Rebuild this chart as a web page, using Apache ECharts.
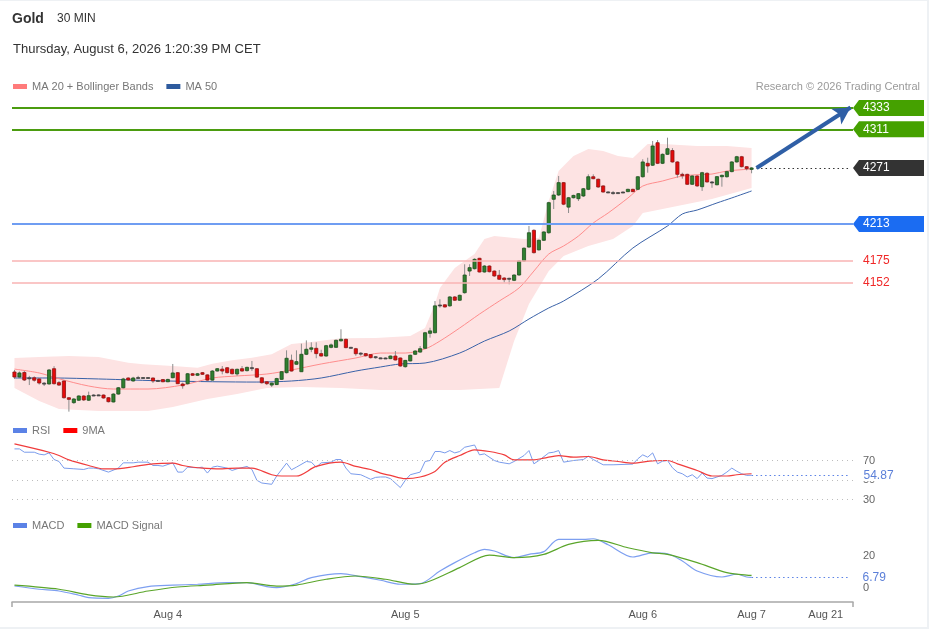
<!DOCTYPE html>
<html><head><meta charset="utf-8">
<script src="https://cdn.jsdelivr.net/npm/echarts@6/dist/echarts.min.js"></script>
<style>
html,body{margin:0;padding:0;background:#fff;}
#c{width:929px;height:629px;box-sizing:border-box;border-right:2px solid #eef1f4;border-bottom:2px solid #eef1f4;border-top:1px solid #eef1f4;}
</style></head><body><div id="c"></div>
<script>
// ---------- DATA ----------
const totalSlots = 170;
const dayLabelSlots = [31, 79, 127, 149, 164];
const dayLabels = ['Aug 4', 'Aug 5', 'Aug 6', 'Aug 7', 'Aug 21'];

// candles: [open, high, low, close]
const ohlc = [
[4060.0,4062.1,4052.8,4054.8],[4054.8,4060.5,4053.8,4059.0],[4059.5,4061.0,4050.7,4051.7],[4053.0,4056.0,4046.5,4054.0],
[4054.0,4055.5,4050.0,4051.5],[4052.8,4053.5,4047.0,4048.6],[4048.5,4049.5,4045.5,4047.6],[4047.6,4063.0,4047.0,4062.1],
[4063.4,4066.0,4047.0,4047.9],[4049.0,4050.7,4045.5,4046.5],[4050.7,4051.2,4032.5,4033.4],[4033.4,4034.0,4019.0,4031.7],
[4028.3,4033.0,4027.0,4032.1],[4030.8,4036.0,4030.0,4035.2],[4035.2,4036.0,4030.0,4031.1],[4030.8,4039.7,4030.0,4035.5],
[4035.5,4037.0,4035.0,4036.2],[4036.2,4036.8,4035.5,4036.3],[4036.2,4036.8,4032.5,4033.1],[4033.4,4034.0,4028.5,4029.3],
[4029.0,4038.0,4028.5,4037.2],[4037.2,4044.5,4036.5,4043.7],[4043.7,4054.0,4043.0,4052.8],[4053.8,4054.5,4051.0,4051.7],
[4050.7,4055.0,4050.0,4053.8],[4054.0,4056.0,4053.5,4054.3],[4054.3,4054.6,4054.0,4054.3],[4054.3,4054.6,4054.0,4054.2],
[4053.8,4054.3,4048.6,4050.7],[4051.2,4052.0,4050.0,4050.7],[4052.2,4052.8,4049.5,4049.9],[4049.9,4053.0,4049.5,4052.3],
[4054.1,4068.3,4053.5,4059.0],[4059.3,4060.0,4047.5,4047.9],[4047.6,4049.0,4042.7,4045.8],[4047.9,4059.0,4047.0,4058.2],
[4058.2,4059.0,4056.0,4056.6],[4056.6,4059.0,4056.0,4058.2],[4059.3,4060.0,4057.0,4057.6],[4057.0,4057.6,4051.0,4051.6],
[4051.6,4062.0,4051.0,4061.0],[4061.0,4064.0,4060.5,4063.4],[4063.0,4066.2,4057.6,4061.0],[4064.4,4065.0,4058.5,4059.3],
[4062.8,4063.5,4057.5,4058.2],[4058.0,4063.5,4056.0,4062.8],[4063.4,4066.2,4060.5,4061.0],[4061.4,4065.5,4060.5,4064.8],
[4064.5,4071.4,4061.0,4063.5],[4063.4,4064.0,4054.0,4054.7],[4054.0,4054.7,4048.0,4048.9],[4049.9,4050.5,4046.5,4047.9],
[4046.5,4049.0,4044.5,4048.5],[4047.0,4054.0,4046.5,4053.2],[4052.4,4061.0,4052.0,4060.3],[4059.3,4082.4,4058.5,4074.2],
[4072.1,4078.0,4060.5,4061.0],[4068.0,4082.4,4067.5,4070.7],[4060.3,4089.3,4060.0,4078.3],[4078.3,4092.7,4077.5,4083.5],
[4083.5,4090.7,4080.5,4085.0],[4084.5,4090.7,4074.2,4079.0],[4079.0,4083.0,4076.0,4076.5],[4076.5,4088.0,4076.0,4087.2],
[4085.5,4089.5,4084.5,4088.0],[4085.5,4093.5,4085.0,4092.8],[4092.2,4104.2,4091.5,4093.8],[4093.8,4094.5,4084.5,4085.2],
[4085.5,4086.0,4084.5,4085.0],[4084.1,4085.0,4076.8,4078.9],[4079.5,4080.5,4076.8,4078.5],[4079.0,4079.5,4076.0,4076.8],
[4078.0,4078.5,4074.0,4074.8],[4075.8,4076.5,4073.8,4074.5],[4074.5,4075.0,4074.0,4074.6],[4074.5,4075.0,4074.0,4074.4],
[4073.8,4077.0,4073.3,4076.5],[4076.5,4081.7,4072.0,4072.4],[4074.5,4075.0,4065.5,4066.2],[4065.5,4072.5,4064.5,4072.0],
[4071.4,4078.0,4071.0,4077.3],[4078.3,4082.5,4077.5,4081.7],[4080.6,4086.9,4080.0,4084.1],[4084.5,4101.5,4084.0,4100.6],
[4100.0,4105.8,4095.5,4102.5],[4100.6,4133.4,4100.0,4128.4],[4128.4,4135.2,4126.5,4129.3],[4129.5,4130.0,4126.8,4127.2],
[4128.4,4138.5,4127.5,4137.6],[4137.6,4138.5,4133.5,4134.2],[4134.2,4140.0,4133.5,4139.3],[4142.0,4171.4,4141.0,4160.3],
[4164.4,4171.4,4159.3,4167.9],[4166.8,4177.5,4166.0,4176.5],[4177.6,4178.0,4163.0,4163.4],[4163.4,4170.5,4162.8,4169.6],
[4169.6,4170.3,4163.0,4163.7],[4164.4,4165.0,4158.5,4159.3],[4160.0,4165.5,4155.3,4155.9],[4157.2,4158.0,4152.5,4155.5],
[4156.0,4157.5,4150.7,4156.9],[4154.8,4161.0,4154.0,4160.3],[4160.3,4175.5,4159.5,4174.8],[4174.8,4188.8,4174.0,4188.0],
[4189.2,4211.0,4188.5,4204.0],[4206.5,4207.5,4182.5,4183.4],[4186.3,4197.0,4185.5,4196.2],[4196.2,4205.5,4195.5,4204.8],
[4204.0,4236.0,4203.0,4235.1],[4238.6,4247.2,4228.5,4243.0],[4243.0,4262.7,4242.0,4255.8],[4255.8,4256.5,4232.5,4233.5],
[4230.5,4241.0,4224.4,4240.2],[4240.2,4243.3,4239.5,4242.6],[4239.2,4245.0,4236.8,4244.4],[4242.0,4250.3,4241.0,4249.5],
[4248.9,4264.4,4248.0,4261.9],[4261.9,4264.4,4259.3,4259.9],[4259.3,4260.0,4250.5,4251.3],[4252.4,4253.0,4245.5,4246.1],
[4246.1,4246.8,4245.5,4246.2],[4245.4,4247.2,4243.4,4245.5],[4245.4,4245.9,4245.0,4245.5],[4246.1,4246.6,4245.6,4246.0],
[4246.5,4249.5,4246.0,4248.9],[4248.9,4249.5,4246.0,4246.5],[4248.9,4262.5,4248.0,4261.9],[4261.9,4280.0,4261.0,4277.2],
[4275.8,4281.6,4266.1,4273.0],[4273.8,4298.9,4273.0,4293.7],[4297.1,4299.9,4275.0,4275.8],[4275.8,4286.0,4275.0,4285.1],
[4285.1,4302.3,4284.5,4290.9],[4289.0,4291.5,4276.5,4277.2],[4277.2,4278.0,4260.9,4264.4],[4264.4,4266.1,4259.9,4263.0],
[4264.4,4265.0,4253.5,4254.1],[4254.1,4263.5,4253.5,4262.7],[4262.7,4263.5,4251.5,4252.4],[4251.6,4267.0,4247.2,4266.1],
[4265.5,4266.5,4256.0,4256.5],[4256.5,4257.5,4250.5,4255.2],[4253.6,4262.5,4253.0,4262.0],[4261.9,4264.0,4251.6,4263.4],
[4261.9,4268.0,4261.0,4267.2],[4267.2,4278.0,4266.5,4277.2],[4277.2,4283.5,4276.5,4282.6],[4282.6,4283.5,4271.5,4272.3],
[4272.3,4273.0,4268.5,4270.2],[4269.5,4271.8,4265.5,4271.0]
];

// [slot, value] readings
const ma20 = [[0,4063],[5,4059],[9,4053],[15,4045.5],[20,4042.4],[27,4042.4],[34,4046.5],[40,4053.8],[45,4055.9],[51,4057.9],
[56,4062.1],[62,4068.3],[69,4074.5],[74,4079.6],[79,4079.6],[83,4083.8],[86,4092],[90,4105.5],[94,4119.9],[98,4133.4],
[102,4146.9],[105,4164.4],[108,4182],[111,4190.3],[114,4200.6],[117,4214.1],[120,4224.4],[124,4239.9],[127,4252.3],
[131,4257.5],[134,4261.6],[137,4263.7],[141,4264.7],[144,4267.8],[149,4269.9]];
const ma50 = [[0,4053.8],[8,4053.8],[17,4052.8],[31,4050.7],[49,4049.6],[56,4050.7],[62,4053.8],[69,4061],[74,4065.2],
[78,4068.3],[83,4069.3],[90,4079.6],[95,4092],[100,4102.4],[104,4114.8],[108,4126.2],[111,4133.4],[118,4156.2],
[125,4188.2],[132,4211],[135,4223.4],[138,4227.5],[142,4234.8],[145,4240],[149,4247.2]];
const bbUpper = [[0,4074.5],[5,4075.5],[11,4076.5],[17,4075.5],[23,4069.6],[26,4068],[32,4066.2],[37,4064.4],[40,4068.6],
[44,4072.1],[48,4074.8],[52,4078.3],[56,4088.9],[60,4091],[66,4095],[73,4095.1],[80,4097.2],[83,4105.5],[85,4130.3],
[86,4146.9],[89,4167.5],[93,4182],[95,4197.5],[97,4200.6],[103,4197.5],[106,4198.6],[108,4236.8],[110,4267.8],
[113,4283.4],[116,4290.6],[119,4288.5],[122,4283.4],[125,4281.3],[128,4295.8],[131,4295.8],[138,4293.7],[144,4293.7],[149,4291.6]];
const bbLower = [[0,4043.4],[5,4030],[9,4021.7],[17,4019.7],[27,4019.7],[32,4023.8],[39,4032.1],[45,4037.2],[51,4043.4],
[58,4044.5],[66,4043.4],[74,4041.4],[82,4041.4],[90,4041.4],[98,4043.4],[101,4092],[104,4130.3],[108,4164.4],
[111,4180],[116,4190.3],[121,4197.5],[125,4211],[127,4224.4],[134,4231.6],[141,4238.9],[149,4250.3]];

const rsi = [[0,81.9],[1,81.9],[2,78.5],[4,78.5],[5,76.5],[6,75.8],[7,77.8],[8,71],[9,69],[10,62.2],[12,61.5],[14,60.8],
[15,62.2],[16,62.2],[17,61.5],[19,58.1],[21,62.2],[22,67.6],[24,67.6],[25,68.3],[27,68.3],[28,64.9],[29,64.9],[30,64.2],
[32,67.6],[33,58.1],[34,58.1],[35,63.2],[37,62.5],[38,63.2],[39,57.1],[40,63.2],[41,64.2],[43,62.2],[44,59.8],[45,61.5],
[47,63.9],[48,60.8],[49,49.7],[50,46.9],[52,45.6],[53,54.1],[55,67.3],[56,60.5],[57,63.2],[59,69],[60,68.3],[61,63.2],
[62,67.6],[64,68.3],[65,71],[66,71],[67,62.2],[68,56.4],[70,55.4],[71,53.1],[72,50.7],[73,52.7],[74,53.1],[75,53.1],
[76,51.4],[78,42.2],[79,49.7],[80,55.4],[82,58.1],[83,69],[84,70],[85,79.2],[86,79.2],[87,77.8],[88,80.2],[89,77.8],
[90,79.2],[91,83.6],[93,85.9],[94,75.8],[95,76.8],[97,70],[98,68.3],[100,66.6],[101,69],[103,75.1],[104,80.2],[105,66.6],
[106,70],[108,77.8],[109,78.5],[110,80.2],[111,68.3],[113,70],[115,71],[116,74.4],[117,71],[119,65.6],[121,65.6],
[125,66.3],[126,71.7],[127,75.8],[128,73.4],[129,77.8],[130,66.6],[131,69.3],[132,70],[133,62.5],[134,58.1],[135,56.4],
[136,53.1],[137,55.4],[138,51.4],[139,57.1],[140,52],[141,51.4],[142,53.1],[143,54.7],[144,58.1],[145,62.2],[146,59],
[147,56.4],[148,54.7],[149,54.87]];
const rsiMa = [[0,87],[7,78.5],[9,75.1],[11,70.7],[15,64.9],[18,61.5],[20,61.5],[24,63.6],[28,66.6],[32,67.3],[34,64.9],
[38,62.2],[42,61.5],[45,62.2],[48,62.2],[52,55.4],[54,54.1],[57,54.1],[61,63.9],[66,68.3],[69,63.9],[72,60.8],[74,57],
[76,54.7],[79,51.4],[82,53.1],[85,58.8],[87,68.3],[90,75.1],[93,80.9],[96,79.2],[99,75.8],[101,70.7],[105,70.7],
[107,72.4],[110,75.1],[113,73.4],[116,74.1],[119,70.7],[122,69],[125,67.3],[129,69.7],[132,70],[134,66.6],[138,59.8],
[141,54.1],[144,54.1],[146,55.4],[149,56.4]];

const macd = [[0,1.4],[5,-0.6],[9,-1.7],[13,-4.3],[15,-5.8],[19,-6.2],[21,-4.8],[23,-1.7],[27,1.0],[32,1.9],[37,2.5],
[43,3.5],[47,3.5],[51,1.0],[53,0.4],[57,2.9],[60,6.6],[66,9.1],[70,7.2],[74,5.0],[78,2.5],[82,2.9],[86,10.7],[89,15.9],
[93,22],[95,24.1],[97,23.1],[101,19],[104,21],[107,22.7],[110,30.3],[115,30.3],[117,30.7],[120,27],[125,19.4],[129,22],
[132,21.4],[135,16.9],[138,10.7],[143,7],[146,8.7],[148,7],[149,6.79]];
const macdSignal = [[0,1.9],[9,-0.6],[15,-4.1],[20,-5.4],[27,-1.7],[33,0.8],[39,1.9],[47,3.5],[53,1.4],[57,2.0],[63,5.6],
[69,7.6],[75,5.6],[81,2.5],[84,4.5],[90,12.8],[96,20.6],[101,19],[107,21],[112,27.2],[118,29.7],[124,25.1],[129,22],
[132,21],[138,15.9],[144,9.7],[148,8.2],[149,8.0]];

const levels = [4333, 4311, 4271, 4213, 4175, 4152];
const lastPrice = 4271;
const target = 4333.5;
const lastRsi = 54.87;
const lastMacd = 6.79;
const rsiGuides = [30, 50, 70];
const macdTicks = [0, 20];

// ---------- STYLE ----------
const FONT = '"Liberation Sans", Arial, sans-serif';
const levelStyle = {
  4333: {line: '#4b9c0f', width: 2, tag: '#45a100'},
  4311: {line: '#4b9c0f', width: 2, tag: '#45a100'},
  4271: {line: null, tag: '#333333'},
  4213: {line: '#6f9df2', width: 2, tag: '#1b6cf2'},
  4175: {line: '#f9b3b3', width: 1.5, text: '#f02828'},
  4152: {line: '#f9b3b3', width: 1.5, text: '#f02828'}
};

const chart = echarts.init(document.getElementById('c'), null, {renderer: 'canvas'});
const cats = Array.from({length: totalSlots}, (_, i) => 's' + i);
const GL = 12, GR = 74;

function renderCandle(params, api) {
  const i = api.value(0), o = api.value(1), h = api.value(2), l = api.value(3), c = api.value(4);
  const pO = api.coord([i, o]), pC = api.coord([i, c]), pH = api.coord([i, h]), pL = api.coord([i, l]);
  const w = api.size([1, 0])[0] * 0.64;
  const top = Math.min(pO[1], pC[1]);
  let hgt = Math.abs(pO[1] - pC[1]);
  const doji = hgt < 1.3;
  if (doji) hgt = 1;
  const up = c >= o;
  return {type: 'group', children: [
    {type: 'line', shape: {x1: pH[0], y1: pH[1], x2: pL[0], y2: pL[1]}, style: {stroke: '#8d8d8d', lineWidth: 1}},
    {type: 'rect', shape: {x: pO[0] - w / 2, y: top, width: w, height: hgt},
      style: {fill: doji ? '#444' : (up ? '#2f7f2f' : '#e60a0a'), stroke: doji ? '#444' : (up ? '#1d4f1d' : '#8c1515'), lineWidth: 0.8}}
  ]};
}
function renderBand(params, api) {
  if (params.dataIndex !== 0) return;
  const pts = bbUpper.map(p => api.coord(p)).concat(bbLower.slice().reverse().map(p => api.coord(p)));
  return {type: 'polygon', shape: {points: pts}, style: {fill: '#fde3e3'}};
}

const xBase = {type: 'category', data: cats, boundaryGap: true, axisLine: {show: false}, axisTick: {show: false}, axisLabel: {show: false}, splitLine: {show: false}};

const option = {
  animation: false,
  backgroundColor: '#fff',
  textStyle: {fontFamily: FONT},
  title: [
    {text: 'Gold', left: 12, top: 11, padding: 0, textStyle: {fontSize: 14, fontWeight: 'bold', color: '#333', fontFamily: FONT}},
    {text: '30 MIN', left: 57, top: 12, padding: 0, textStyle: {fontSize: 12, fontWeight: 'normal', color: '#333', fontFamily: FONT}},
    {text: 'Thursday, August 6, 2026 1:20:39 PM CET', left: 13, top: 42, padding: 0, textStyle: {fontSize: 13, fontWeight: 'normal', color: '#333', fontFamily: FONT}},
    {text: 'Research © 2026 Trading Central', right: 7, top: 80, padding: 0, textStyle: {fontSize: 11, fontWeight: 'normal', color: '#9a9a9a', fontFamily: FONT}}
  ],
  legend: [
    {data: ['MA 20 + Bollinger Bands', 'MA 50'], left: 13, top: 80, padding: 0, icon: 'rect', itemWidth: 14, itemHeight: 5, itemGap: 13,
      textStyle: {fontSize: 11, color: '#777', fontFamily: FONT}, selectedMode: false},
    {data: ['RSI', '9MA'], left: 13, top: 424, padding: 0, icon: 'rect', itemWidth: 14, itemHeight: 5, itemGap: 13,
      textStyle: {fontSize: 11, color: '#777', fontFamily: FONT}, selectedMode: false},
    {data: ['MACD', 'MACD Signal'], left: 13, top: 519, padding: 0, icon: 'rect', itemWidth: 14, itemHeight: 5, itemGap: 13,
      textStyle: {fontSize: 11, color: '#777', fontFamily: FONT}, selectedMode: false}
  ],
  grid: [
    {left: GL, right: GR, top: 95, height: 320},
    {left: GL, right: GR, top: 440, height: 68.25},
    {left: GL, right: GR, top: 530, height: 71}
  ],
  xAxis: [
    Object.assign({}, xBase, {gridIndex: 0}),
    Object.assign({}, xBase, {gridIndex: 1}),
    Object.assign({}, xBase, {gridIndex: 2, position: 'bottom',
      axisLine: {show: true, onZero: false, lineStyle: {color: '#a8a8a8', width: 1.5}},
      axisTick: {show: true, interval: (idx) => idx === 0, length: 5, lineStyle: {color: '#a8a8a8', width: 1.5}},
      axisLabel: {show: true, interval: (idx) => dayLabelSlots.indexOf(idx) >= 0,
        formatter: (v, idx) => { const k = dayLabelSlots.indexOf(idx); return k >= 0 ? dayLabels[k] : ''; },
        color: '#555', fontSize: 11, margin: 7, fontFamily: FONT}})
  ],
  yAxis: [
    {gridIndex: 0, type: 'value', min: 4014.5, max: 4345.4, show: false, splitLine: {show: false}},
    {gridIndex: 1, type: 'value', position: 'right', min: 20, max: 90, interval: 10,
      axisLine: {show: false}, axisTick: {show: false}, splitLine: {show: false},
      axisLabel: {color: '#666', fontSize: 11, margin: 10, fontFamily: FONT,
        formatter: (v) => rsiGuides.indexOf(v) >= 0 ? String(v) : ''}},
    {gridIndex: 2, type: 'value', position: 'right', min: -8.5, max: 35.5,
      axisLine: {show: false}, axisTick: {show: false}, splitLine: {show: false},
      axisLabel: {color: '#666', fontSize: 11, margin: 10, fontFamily: FONT, customValues: macdTicks}}
  ],
  series: [
    {name: 'band', type: 'custom', xAxisIndex: 0, yAxisIndex: 0, renderItem: renderBand, data: [[0, bbUpper[0][1]]], z: 1, silent: true},
    {name: 'MA 50', type: 'line', xAxisIndex: 0, yAxisIndex: 0, data: ma50, showSymbol: false, smooth: 0.3,
      lineStyle: {color: '#3a62a8', width: 1}, itemStyle: {color: '#2e5b9e'}, z: 2,
      markLine: {silent: true, symbol: ['none', 'none'], label: {show: false},
        data: levels.filter(v => levelStyle[v].line).map(v => ({yAxis: v, lineStyle: {color: levelStyle[v].line, width: levelStyle[v].width, type: 'solid'}}))}},
    {name: 'MA 20 + Bollinger Bands', type: 'line', xAxisIndex: 0, yAxisIndex: 0, data: ma20, showSymbol: false, smooth: 0.3,
      lineStyle: {color: '#ff8d8d', width: 1}, itemStyle: {color: '#ff7b7b'}, z: 3,
      markLine: {silent: true, symbol: ['none', 'none'], label: {show: false},
        data: [
          [{coord: [150, lastPrice], symbol: 'none'}, {coord: [totalSlots - 1, lastPrice], symbol: 'none', lineStyle: {color: '#333', type: [1.5, 3], width: 1.2}}],
          [{coord: [150, lastPrice], symbol: 'none'}, {coord: [totalSlots - 1, target], symbol: 'arrow', symbolSize: [14, 17], lineStyle: {color: '#2f5fa6', width: 4, type: 'solid'}}]
        ]}},
    {name: 'Gold', type: 'custom', xAxisIndex: 0, yAxisIndex: 0, renderItem: renderCandle,
      encode: {x: 0, y: [1, 2, 3, 4]}, data: ohlc.map((r, i) => [i, r[0], r[1], r[2], r[3]]), z: 4},
    {name: 'RSI', type: 'line', xAxisIndex: 1, yAxisIndex: 1, data: rsi, showSymbol: false,
      lineStyle: {color: '#7b9cec', width: 1}, itemStyle: {color: '#5b82e6'}, z: 3,
      markLine: {silent: true, symbol: ['none', 'none'], label: {show: false},
        data: rsiGuides.map(v => ({yAxis: v, lineStyle: {color: '#bdbdbd', type: [1, 4], width: 1}})).concat([
          [{coord: [149, lastRsi]}, {coord: [totalSlots - 1, lastRsi], lineStyle: {color: '#5b82e6', type: [1.5, 3], width: 1.2},
            label: {show: true, position: 'end', distance: 12, formatter: String(lastRsi), color: '#5b7fd8', fontSize: 12, backgroundColor: '#fff', padding: [0, 1], fontFamily: FONT}}]
        ])}},
    {name: '9MA', type: 'line', xAxisIndex: 1, yAxisIndex: 1, data: rsiMa, showSymbol: false, smooth: 0.3,
      lineStyle: {color: '#f03c3c', width: 1.2}, itemStyle: {color: '#ff0000'}, z: 4},
    {name: 'MACD', type: 'line', xAxisIndex: 2, yAxisIndex: 2, data: macd, showSymbol: false, smooth: 0.3,
      lineStyle: {color: '#7d9ff0', width: 1.2}, itemStyle: {color: '#5b82e6'}, z: 3,
      markLine: {silent: true, symbol: ['none', 'none'], label: {show: false},
        data: [[{coord: [149, lastMacd]}, {coord: [totalSlots - 1, lastMacd], lineStyle: {color: '#5b82e6', type: [1.5, 3], width: 1.2},
          label: {show: true, position: 'end', distance: 12, formatter: String(lastMacd), color: '#5b7fd8', fontSize: 12, padding: 0, fontFamily: FONT}}]]}},
    {name: 'MACD Signal', type: 'line', xAxisIndex: 2, yAxisIndex: 2, data: macdSignal, showSymbol: false, smooth: 0.3,
      lineStyle: {color: '#5aa52a', width: 1.2}, itemStyle: {color: '#44a000'}, z: 4}
  ]
};
chart.setOption(option);

// price tags at right edge (positions via the chart's own scale)
const xEdge = chart.getWidth() - GR;
const graphics = [];
levels.forEach(v => {
  const y = chart.convertToPixel({yAxisIndex: 0}, v);
  const st = levelStyle[v];
  if (st.tag) {
    graphics.push({type: 'polygon', shape: {points: [[xEdge, y], [xEdge + 6, y - 8], [xEdge + 71, y - 8], [xEdge + 71, y + 8], [xEdge + 6, y + 8]]},
      style: {fill: st.tag}, z: 10});
    graphics.push({type: 'text', x: xEdge + 10, y: y, style: {text: String(v), fill: '#fff', font: '12px ' + FONT, verticalAlign: 'middle'}, z: 11});
  } else {
    graphics.push({type: 'text', x: xEdge + 10, y: y, style: {text: String(v), fill: st.text, font: '12px ' + FONT, verticalAlign: 'middle'}, z: 11});
  }
});
chart.setOption({graphic: graphics});
</script></body></html>
